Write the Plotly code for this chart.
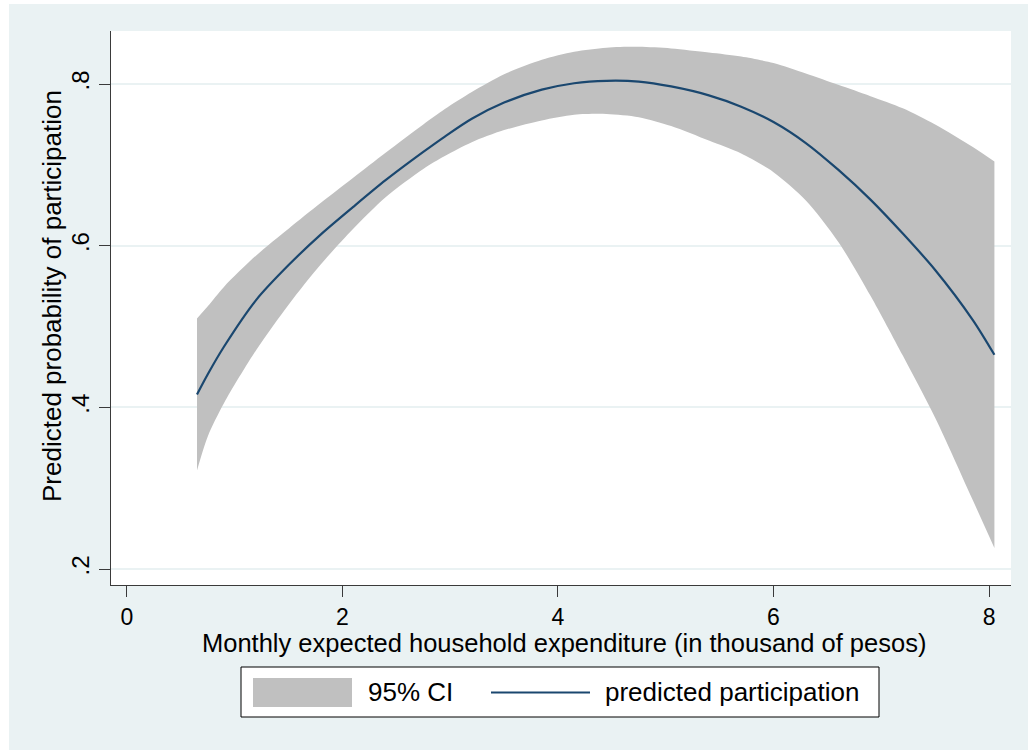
import plotly.graph_objects as go

# Predicted participation with 95% confidence band
expenditure = [0.65, 0.75, 0.9, 1.2, 1.5, 1.8, 2.1, 2.4, 2.75, 2.95, 3.2, 3.5, 3.85,
               4.15, 4.45, 4.75, 5.05, 5.4, 5.7, 6.0, 6.3, 6.6, 6.9, 7.2, 7.5, 7.85, 8.05]
predicted = [0.416, 0.441, 0.475, 0.533, 0.576, 0.614, 0.648, 0.681, 0.716, 0.735,
             0.757, 0.777, 0.793, 0.801, 0.804, 0.803, 0.797, 0.786, 0.772, 0.753,
             0.727, 0.694, 0.657, 0.615, 0.570, 0.508, 0.465]
ci_upper = [0.510, 0.525, 0.549, 0.588, 0.621, 0.653, 0.684, 0.715, 0.750, 0.769,
            0.790, 0.812, 0.830, 0.840, 0.845, 0.846, 0.844, 0.839, 0.834, 0.826,
            0.813, 0.799, 0.785, 0.770, 0.750, 0.722, 0.704]
ci_lower = [0.322, 0.364, 0.405, 0.471, 0.527, 0.577, 0.621, 0.660, 0.695, 0.711,
            0.728, 0.743, 0.755, 0.762, 0.763, 0.759, 0.748, 0.730, 0.714, 0.691,
            0.656, 0.605, 0.538, 0.464, 0.387, 0.285, 0.226]

x_ticks = [0, 2, 4, 6, 8]
y_ticks = [0.2, 0.4, 0.6, 0.8]
y_tick_labels = [".2", ".4", ".6", ".8"]

legend_labels = ["95% CI", "predicted participation"]
x_title = "Monthly expected household expenditure (in thousand of pesos)"
y_title = "Predicted probability of participation"

W, H = 1028, 750
L, R, T, B = 111, 1011, 31, 585  # plot region in pixels

BG = "#EAF2F3"
BAND = "#C0C0C0"
NAVY = "#1A476F"
AXIS = "#3A3A3A"
FONT = "Liberation Sans, Arial, sans-serif"
TXT = 26
TICK = 23


def px(x):
    return (x - L) / (R - L)


def py(y):
    return (B - y) / (B - T)


fig = go.Figure()

# band: upper edge, then lower edge filled up to it
fig.add_trace(go.Scatter(
    x=expenditure, y=ci_upper, mode="lines",
    line=dict(width=0, color=BAND, shape="spline", smoothing=0.8),
    hoverinfo="skip", showlegend=False,
))
fig.add_trace(go.Scatter(
    x=expenditure, y=ci_lower, mode="lines", fill="tonexty", fillcolor=BAND,
    line=dict(width=0, color=BAND, shape="spline", smoothing=0.8),
    name=legend_labels[0], showlegend=False,
))
fig.add_trace(go.Scatter(
    x=expenditure, y=predicted, mode="lines",
    line=dict(color=NAVY, width=2.2, shape="spline", smoothing=0.8),
    name=legend_labels[1], showlegend=False,
))

shapes = [
    # white strips at the page edge
    dict(type="rect", xref="paper", yref="paper", x0=px(0), x1=px(9), y0=py(H), y1=py(0),
         fillcolor="white", line=dict(width=0), layer="below"),
    dict(type="rect", xref="paper", yref="paper", x0=px(0), x1=px(W), y0=py(4), y1=py(0),
         fillcolor="white", line=dict(width=0), layer="below"),
    # legend frame and keys
    dict(type="rect", xref="paper", yref="paper", x0=px(241), x1=px(879), y0=py(717), y1=py(667),
         fillcolor="white", line=dict(color="#000000", width=1)),
    dict(type="rect", xref="paper", yref="paper", x0=px(253), x1=px(352), y0=py(707), y1=py(678),
         fillcolor=BAND, line=dict(width=0)),
    dict(type="line", xref="paper", yref="paper", x0=px(491), x1=px(590), y0=py(692.5), y1=py(692.5),
         line=dict(color=NAVY, width=2.2)),
]

annotations = [
    dict(text=x_title, xref="paper", yref="paper", x=px(564), y=py(643),
         xanchor="center", yanchor="middle", showarrow=False,
         font=dict(size=TXT - 0.5, color="#000000", family=FONT)),
    dict(text=y_title, xref="paper", yref="paper", x=px(52), y=py(296),
         xanchor="center", yanchor="middle", showarrow=False, textangle=-90,
         font=dict(size=TXT, color="#000000", family=FONT)),
    dict(text=legend_labels[0], xref="paper", yref="paper", x=px(366), y=py(692),
         xanchor="left", yanchor="middle", showarrow=False,
         font=dict(size=TXT, color="#000000", family=FONT)),
    dict(text=legend_labels[1], xref="paper", yref="paper", x=px(603), y=py(692),
         xanchor="left", yanchor="middle", showarrow=False,
         font=dict(size=TXT, color="#000000", family=FONT)),
]

fig.update_layout(
    width=W, height=H,
    margin=dict(l=L, r=W - R, t=T, b=H - B, pad=0),
    paper_bgcolor=BG, plot_bgcolor="white",
    showlegend=False,
    shapes=shapes, annotations=annotations,
    font=dict(family=FONT, size=TXT, color="#000000"),
)

fig.update_xaxes(
    range=[-0.148, 8.204], tickvals=x_ticks, ticktext=[str(v) for v in x_ticks],
    showgrid=False, zeroline=False,
    showline=True, linecolor=AXIS, linewidth=1,
    ticks="outside", ticklen=11, tickwidth=1, tickcolor=AXIS,
    tickfont=dict(size=TICK, family=FONT, color="#000000"),
)
fig.update_yaxes(
    range=[0.1802, 0.8656], tickvals=y_ticks, ticktext=y_tick_labels,
    showgrid=True, gridcolor=BG, gridwidth=1.5, zeroline=False,
    showline=True, linecolor=AXIS, linewidth=1,
    ticks="outside", ticklen=11, tickwidth=1, tickcolor=AXIS, tickangle=-90,
    tickfont=dict(size=TICK + 1, family=FONT, color="#000000"),
)

fig.write_html("out.html")
